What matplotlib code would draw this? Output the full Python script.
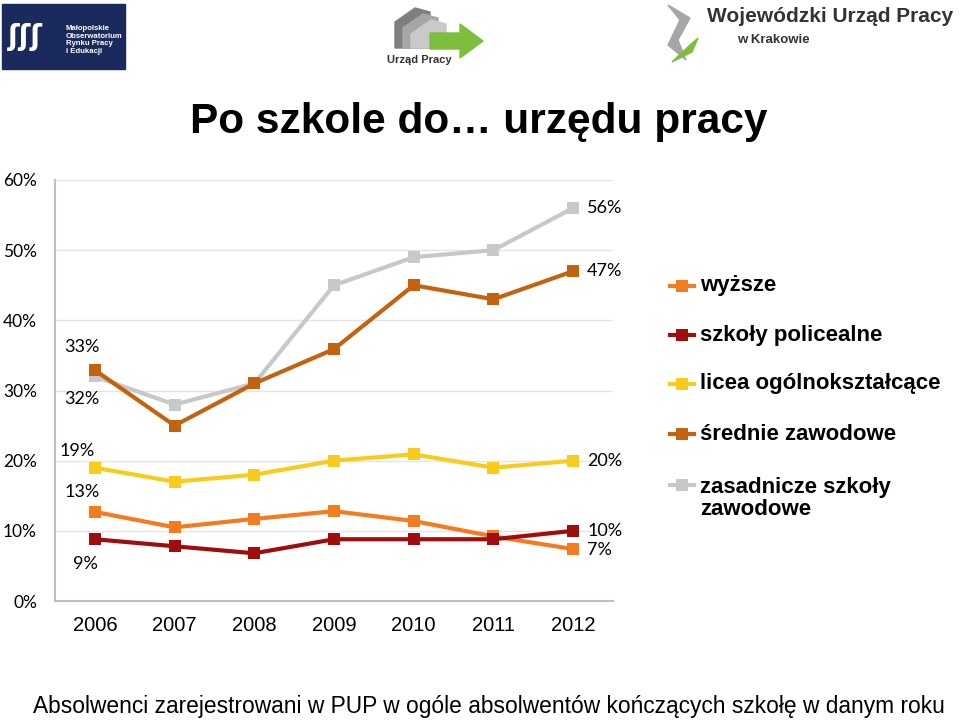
import matplotlib
matplotlib.use("Agg")
import matplotlib.pyplot as plt
from matplotlib.patches import Rectangle, Polygon
from matplotlib.lines import Line2D

years = ["2006", "2007", "2008", "2009", "2010", "2011", "2012"]
series_names = ["wyższe", "szkoły policealne", "licea ogólnokształcące",
                "średnie zawodowe", "zasadnicze szkoły\nzawodowe"]
wyzsze = [12.7, 10.5, 11.7, 12.8, 11.4, 9.2, 7.4]
policealne = [8.8, 7.8, 6.8, 8.8, 8.8, 8.8, 10.0]
licea = [19.0, 17.0, 18.0, 20.0, 20.9, 19.0, 20.0]
srednie = [32.9, 25.0, 31.0, 35.9, 45.0, 43.0, 47.0]
zasadnicze = [32.0, 28.0, 31.0, 45.0, 49.0, 50.0, 56.0]
colors = ["#F47B20", "#A00D0D", "#F9CB1C", "#C4630F", "#C8C8C8"]
values = [wyzsze, policealne, licea, srednie, zasadnicze]
y_ticks = [0, 10, 20, 30, 40, 50, 60]

fig = plt.figure(figsize=(9.6, 7.2), dpi=100)
ax = fig.add_axes([55/960, 1-601/720, (613-55)/960, (601-180)/720])
x = list(range(len(years)))

order = [4, 3, 2, 0, 1]
for i in order:
    ax.plot(x, values[i], color=colors[i], lw=3, marker="s", ms=9,
            markeredgewidth=0, zorder=3)

ax.set_xlim(-0.5, 6.5)
ax.set_ylim(0, 60)
ax.set_yticks(y_ticks)
ax.set_yticklabels([f"{t}%" for t in y_ticks], fontfamily="Lato", fontsize=12.5)
ax.set_xticks(x)
ax.set_xticklabels(years, fontfamily="Liberation Sans", fontsize=14.5)
ax.tick_params(length=0)
ax.tick_params(axis="y", pad=13)
ax.tick_params(axis="x", pad=11)
ax.grid(axis="y", color="#E4E4E4", lw=1)
ax.set_axisbelow(True)
for s in ["top", "right"]:
    ax.spines[s].set_visible(False)
for s in ["left", "bottom"]:
    ax.spines[s].set_color("#BFBFBF")
    ax.spines[s].set_linewidth(1.5)

lab_kw = dict(fontfamily="Lato", fontsize=13, color="#000000")
left_labels = [(srednie, -9.5, 17), (zasadnicze, -9.5, -16), (licea, -13, 12),
               (wyzsze, -9.5, 14), (policealne, -7, -18)]
for vals, dx, dy in left_labels:
    ax.annotate(f"{vals[0]:.0f}%", (x[0], vals[0]), xytext=(dx, dy), textcoords="offset points",
                ha="center", va="center", **lab_kw)
for vals, dy in [(zasadnicze, 0), (srednie, 0), (licea, 0), (policealne, 0), (wyzsze, -1)]:
    ax.annotate(f"{vals[-1]:.0f}%", (x[-1], vals[-1]), xytext=(10, dy), textcoords="offset points",
                ha="left", va="center", **lab_kw)

# legend (manual)
leg_rows = [(0, 286), (1, 335), (2, 384), (3, 434), (4, 485)]
for i, ypx in leg_rows:
    yf = 1 - ypx / 720
    fig.add_artist(Line2D([670/960, 694/960], [yf, yf], color=colors[i], lw=3, transform=fig.transFigure))
    fig.add_artist(Line2D([682/960], [yf], color=colors[i], marker="s", ms=8, markeredgewidth=0,
                          transform=fig.transFigure))
    if i != 4:
        fig.text(700/960, yf, series_names[i], fontfamily="Liberation Sans", fontsize=16,
                 fontweight="bold", va="center", ha="left")
    else:
        fig.text(700/960, yf + 8/720, series_names[i], fontfamily="Liberation Sans", fontsize=16,
                 fontweight="bold", va="top", ha="left", linespacing=1.05)

# title and footer
fig.text(479/960, 1-122/720, "Po szkole do… urzędu pracy", fontfamily="Liberation Sans",
         fontsize=30.5, fontweight="bold", ha="center", va="center")
fig.text(489/960, 1-707/720, "Absolwenci zarejestrowani w PUP w ogóle absolwentów kończących szkołę w danym roku",
         fontfamily="Liberation Sans", fontsize=16.4, ha="center", va="center")

# logos (approximations)
fig.add_artist(Rectangle((2/960, 1-69/720), 123/960, 65/720, transform=fig.transFigure, color="#1B2A5C"))
fig.text(8/960, 1-37/720, "ʃʃʃ", color="white", fontsize=20, fontweight="bold", va="center",
         fontfamily="DejaVu Sans")
fig.text(66/960, 1-40/720, "Małopolskie\nObserwatorium\nRynku Pracy\ni Edukacji", color="white",
         fontsize=5.6, fontweight="bold", va="center", ha="left", fontfamily="Liberation Sans", linespacing=1.15)
for k, c in enumerate(["#7F7F7F", "#A6A6A6", "#C9C9C9"]):
    fig.add_artist(Polygon([((395 + k*8)/960, 1-(22 + k*6)/720), ((415 + k*8)/960, 1-(8 + k*6)/720),
                            ((430 + k*8)/960, 1-(12 + k*6)/720), ((430 + k*8)/960, 1-48/720),
                            ((395 + k*8)/960, 1-48/720)], closed=True, transform=fig.transFigure, color=c))
fig.add_artist(Polygon([(430/960, 1-33/720), (460/960, 1-33/720), (460/960, 1-24/720), (483/960, 1-41/720),
                        (460/960, 1-58/720), (460/960, 1-49/720), (430/960, 1-49/720)], closed=True,
                       transform=fig.transFigure, color="#7DBE3C"))
fig.text(387/960, 1-60/720, "Urząd Pracy", fontsize=8, fontweight="bold", fontfamily="Liberation Sans",
         color="#333333", va="center", ha="left")
fig.add_artist(Polygon([(668/960, 1-5/720), (680/960, 1-20/720), (668/960, 1-45/720), (686/960, 1-60/720),
                        (678/960, 1-40/720), (690/960, 1-18/720)],
                       closed=True, transform=fig.transFigure, color="#A6A6A6"))
fig.add_artist(Polygon([(672/960, 1-62/720), (690/960, 1-45/720), (698/960, 1-38/720), (692/960, 1-52/720)],
                       closed=True, transform=fig.transFigure, color="#7DBE3C"))
fig.text(707/960, 1-17/720, "Wojewódzki Urząd Pracy", fontsize=15, fontweight="bold", fontfamily="Liberation Sans",
         color="#333333", va="center", ha="left")
fig.text(737/960, 1-40/720, "w Krakowie", fontsize=9.5, fontweight="bold", fontfamily="Liberation Sans",
         color="#333333", va="center", ha="left")

fig.savefig("out.png", dpi=100)
